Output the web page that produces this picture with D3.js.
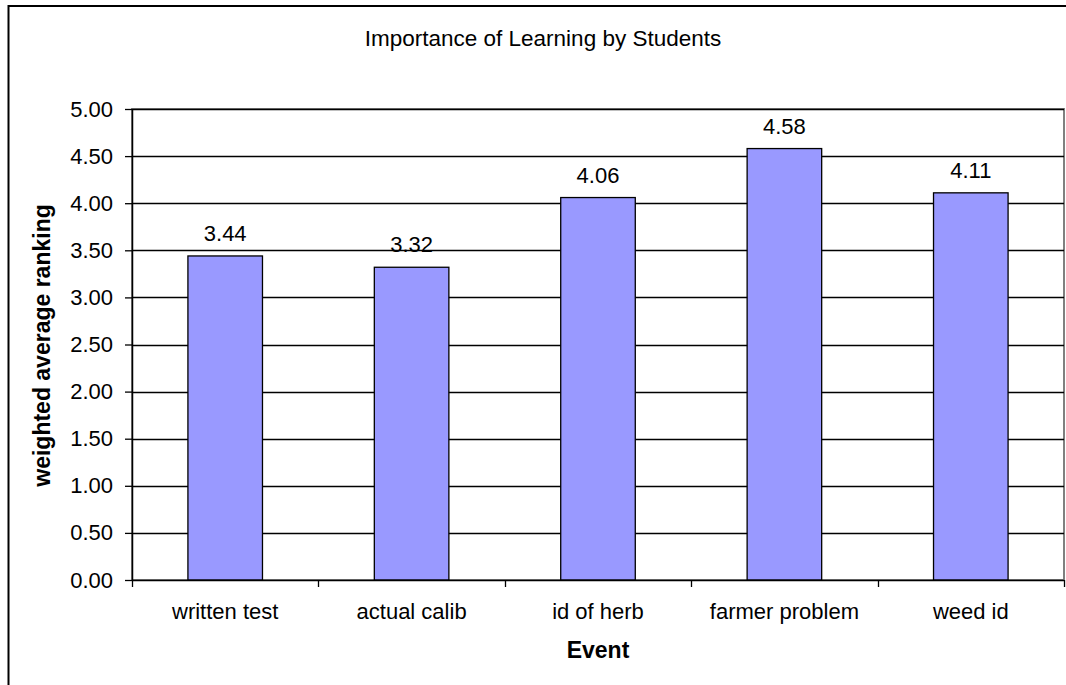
<!DOCTYPE html>
<html>
<head>
<meta charset="utf-8">
<script src="https://cdn.jsdelivr.net/npm/d3@7"></script>
<style>
  body { margin: 0; background: #fff; }
  svg { display: block; font-family: "Liberation Sans", Arial, sans-serif; }
</style>
</head>
<body>
<svg id="chart" width="1066" height="685"></svg>
<script>
// chart data
var categories = ["written test", "actual calib", "id of herb", "farmer problem", "weed id"];
var values = [3.44, 3.32, 4.06, 4.58, 4.11];
var yTicks = [0, 0.5, 1, 1.5, 2, 2.5, 3, 3.5, 4, 4.5, 5];

var svg = d3.select("#chart");

var plot = { left: 132, right: 1064, top: 109, bottom: 580 };
var fs = 22;

// outer chart frame (cut off at right and bottom like the original)
svg.append("rect")
    .attr("x", 8.5).attr("y", 6)
    .attr("width", 1100).attr("height", 700)
    .attr("fill", "white")
    .attr("stroke", "black")
    .attr("stroke-width", 2);

svg.append("text")
    .attr("x", 543).attr("y", 46)
    .attr("text-anchor", "middle")
    .attr("font-size", 22.5)
    .text("Importance of Learning by Students");

var x = d3.scaleBand()
    .domain(categories)
    .range([plot.left, plot.right])
    .paddingInner(0.6)
    .paddingOuter(0.3);

var xTick = d3.scaleLinear()
    .domain([0, categories.length])
    .range([plot.left, plot.right]);

var y = d3.scaleLinear()
    .domain([0, 5])
    .range([plot.bottom, plot.top]);

// plot area border
svg.append("rect")
    .attr("x", plot.left).attr("y", plot.top)
    .attr("width", plot.right - plot.left)
    .attr("height", plot.bottom - plot.top)
    .attr("fill", "white")
    .attr("stroke", "#808080")
    .attr("stroke-width", 2);

// gridlines
svg.append("g")
    .selectAll("line")
    .data(yTicks.filter(function(d){ return d > 0; }))
    .join("line")
    .attr("x1", plot.left).attr("x2", plot.right)
    .attr("y1", function(d){ return Math.round(y(d)) + 0.5; })
    .attr("y2", function(d){ return Math.round(y(d)) + 0.5; })
    .attr("stroke", "black")
    .attr("stroke-width", 1.3);

// bars
svg.append("g")
    .selectAll("rect")
    .data(values)
    .join("rect")
    .attr("x", function(d, i){ return x(categories[i]); })
    .attr("y", function(d){ return y(d); })
    .attr("width", x.bandwidth())
    .attr("height", function(d){ return y(0) - y(d); })
    .attr("fill", "#9999ff")
    .attr("stroke", "black")
    .attr("stroke-width", 1.3);

// value labels
svg.append("g")
    .selectAll("text")
    .data(values)
    .join("text")
    .attr("x", function(d, i){ return x(categories[i]) + x.bandwidth() / 2; })
    .attr("y", function(d){ return y(d) - 15; })
    .attr("text-anchor", "middle")
    .attr("font-size", fs)
    .text(function(d){ return d.toFixed(2); });

// y axis
var yAxis = svg.append("g")
    .attr("transform", "translate(" + plot.left + ",0)")
    .call(d3.axisLeft(y).tickValues(yTicks).tickSize(7).tickPadding(12)
        .tickFormat(function(d){ return d.toFixed(2); }));
yAxis.selectAll("text").attr("font-size", fs).attr("fill", "black")
    .attr("font-family", "Liberation Sans, Arial, sans-serif");
yAxis.selectAll("line").attr("stroke", "black").attr("stroke-width", 1.3);
yAxis.select(".domain").attr("stroke", "black").attr("stroke-width", 1.5).attr("d", "M0.5," + plot.top + "V" + plot.bottom);

// x axis
var xAxis = svg.append("g")
    .attr("transform", "translate(0," + plot.bottom + ")");
xAxis.append("line")
    .attr("x1", plot.left).attr("x2", plot.right)
    .attr("y1", 0.5).attr("y2", 0.5)
    .attr("stroke", "black").attr("stroke-width", 1.5);
xAxis.selectAll(".tk")
    .data(d3.range(categories.length + 1))
    .join("line")
    .attr("class", "tk")
    .attr("x1", function(d){ return Math.round(xTick(d)) + 0.5; })
    .attr("x2", function(d){ return Math.round(xTick(d)) + 0.5; })
    .attr("y1", 0).attr("y2", 7)
    .attr("stroke", "black").attr("stroke-width", 1.3);
xAxis.selectAll(".lbl")
    .data(categories)
    .join("text")
    .attr("class", "lbl")
    .attr("x", function(d){ return x(d) + x.bandwidth() / 2; })
    .attr("y", 39)
    .attr("text-anchor", "middle")
    .attr("font-size", fs)
    .text(function(d){ return d; });

// axis titles
svg.append("text")
    .attr("x", (plot.left + plot.right) / 2)
    .attr("y", 658)
    .attr("text-anchor", "middle")
    .attr("font-size", 23)
    .attr("font-weight", "bold")
    .text("Event");

svg.append("text")
    .attr("transform", "translate(50," + ((plot.top + plot.bottom) / 2 + 1) + ") rotate(-90)")
    .attr("text-anchor", "middle")
    .attr("font-size", 23)
    .attr("font-weight", "bold")
    .text("weighted average ranking");
</script>
</body>
</html>
